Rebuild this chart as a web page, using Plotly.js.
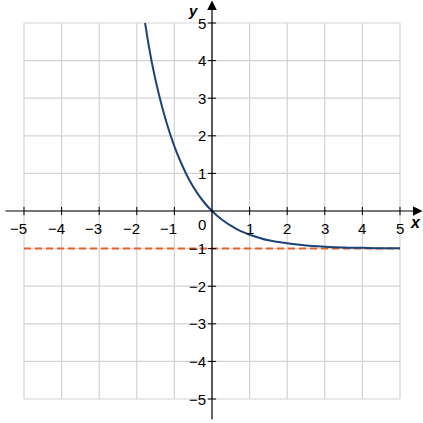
<!DOCTYPE html>
<html>
<head>
<meta charset="utf-8">
<script src="https://cdn.plot.ly/plotly-3.0.1.min.js"></script>
<style>html,body{margin:0;padding:0;background:#fff}#chart{width:423px;height:423px}</style>
</head>
<body>
<div id="chart"></div>
<script>
// Curve values
const curveX = [-1.78, -1.6, -1.4, -1.2, -1, -0.8, -0.6, -0.4, -0.2, 0, 0.25, 0.5, 0.75, 1, 1.5, 2, 2.5, 3, 3.5, 4, 4.5, 5];
const curveY = [5.0, 3.95, 3.05, 2.32, 1.72, 1.23, 0.82, 0.49, 0.22, 0, -0.22, -0.39, -0.53, -0.63, -0.78, -0.86, -0.92, -0.95, -0.97, -0.98, -0.99, -0.99];
// Horizontal asymptote
const asymX = [-5, 5];
const asymY = [-1, -1];
// Ticks
const tickVals = [-5, -4, -3, -2, -1, 1, 2, 3, 4, 5];
const tickLabels = ['−5', '−4', '−3', '−2', '−1', '1', '2', '3', '4', '5'];
const gridVals = [-5, -4, -3, -2, -1, 0, 1, 2, 3, 4, 5];

const FONT = 'Liberation Sans, Arial, sans-serif';
const shapes = [];
gridVals.forEach(v => {
  shapes.push({type: 'line', xref: 'x', yref: 'y', x0: v, x1: v, y0: -5, y1: 5, line: {color: '#d3d3d3', width: 1.2}, layer: 'below'});
  shapes.push({type: 'line', xref: 'x', yref: 'y', x0: -5, x1: 5, y0: v, y1: v, line: {color: '#d3d3d3', width: 1.2}, layer: 'below'});
});
// tick marks on axes
tickVals.forEach(v => {
  shapes.push({type: 'line', xref: 'x', yref: 'y', x0: v, x1: v, y0: -0.11, y1: 0.11, line: {color: '#000', width: 1}});
  shapes.push({type: 'line', xref: 'x', yref: 'y', x0: -0.11, x1: 0.11, y0: v, y1: v, line: {color: '#000', width: 1}});
});

const annotations = [];
// axes with arrowheads
annotations.push({x: 5.6, y: 0, ax: -5.53, ay: 0, xref: 'x', yref: 'y', axref: 'x', ayref: 'y', text: '', showarrow: true, arrowhead: 2, arrowsize: 1.6, arrowwidth: 1.2, arrowcolor: '#000'});
annotations.push({x: 0, y: 5.6, ax: 0, ay: -5.58, xref: 'x', yref: 'y', axref: 'x', ayref: 'y', text: '', showarrow: true, arrowhead: 2, arrowsize: 1.6, arrowwidth: 1.2, arrowcolor: '#000'});
// tick labels
tickVals.forEach((v, i) => {
  const neg = v < 0;
  annotations.push({x: v, y: 0, xref: 'x', yref: 'y', text: tickLabels[i], showarrow: false,
    xanchor: neg ? 'right' : 'center', xshift: neg ? 5 : 0, yanchor: 'middle', yshift: -17,
    font: {family: FONT, size: 15, color: '#000'}});
  annotations.push({x: 0, y: v, xref: 'x', yref: 'y', text: tickLabels[i], showarrow: false,
    xanchor: 'right', xshift: -5, yanchor: 'middle', yshift: 0, borderpad: 0,
    font: {family: FONT, size: 15, color: '#000'}});
});
annotations.push({x: 0, y: 0, xref: 'x', yref: 'y', text: '0', showarrow: false, xanchor: 'right', xshift: -4, yanchor: 'top', yshift: -3, font: {family: FONT, size: 15, color: '#000'}});
annotations.push({x: 5.4, y: 0, xref: 'x', yref: 'y', text: '<b><i>x</i></b>', showarrow: false, xanchor: 'center', yanchor: 'middle', yshift: -11, xshift: 0, font: {family: FONT, size: 16, color: '#000'}});
annotations.push({x: 0, y: 5.612, xref: 'x', yref: 'y', text: '<b><i>y</i></b>', showarrow: false, xanchor: 'right', yanchor: 'top', borderpad: 0, xshift: -13, yshift: -1, font: {family: FONT, size: 15, color: '#000'}});

const data = [
  {x: asymX, y: asymY, mode: 'lines', line: {color: '#e8642b', width: 2, dash: '7px,4px'}, hoverinfo: 'skip'},
  {x: curveX, y: curveY, mode: 'lines', line: {color: '#1c4478', width: 2, shape: 'spline', smoothing: 1}, hoverinfo: 'skip'}
];

const layout = {
  width: 423, height: 423,
  margin: {l: 0, r: 0, t: 0, b: 0},
  paper_bgcolor: '#fff', plot_bgcolor: '#fff',
  showlegend: false,
  xaxis: {range: [-5.638, 5.612], showgrid: false, zeroline: false, showticklabels: false, ticks: '', showline: false, fixedrange: true},
  yaxis: {range: [-5.638, 5.612], showgrid: false, zeroline: false, showticklabels: false, ticks: '', showline: false, fixedrange: true},
  shapes: shapes,
  annotations: annotations
};

Plotly.newPlot('chart', data, layout, {displayModeBar: false, staticPlot: true});
</script>
</body>
</html>
